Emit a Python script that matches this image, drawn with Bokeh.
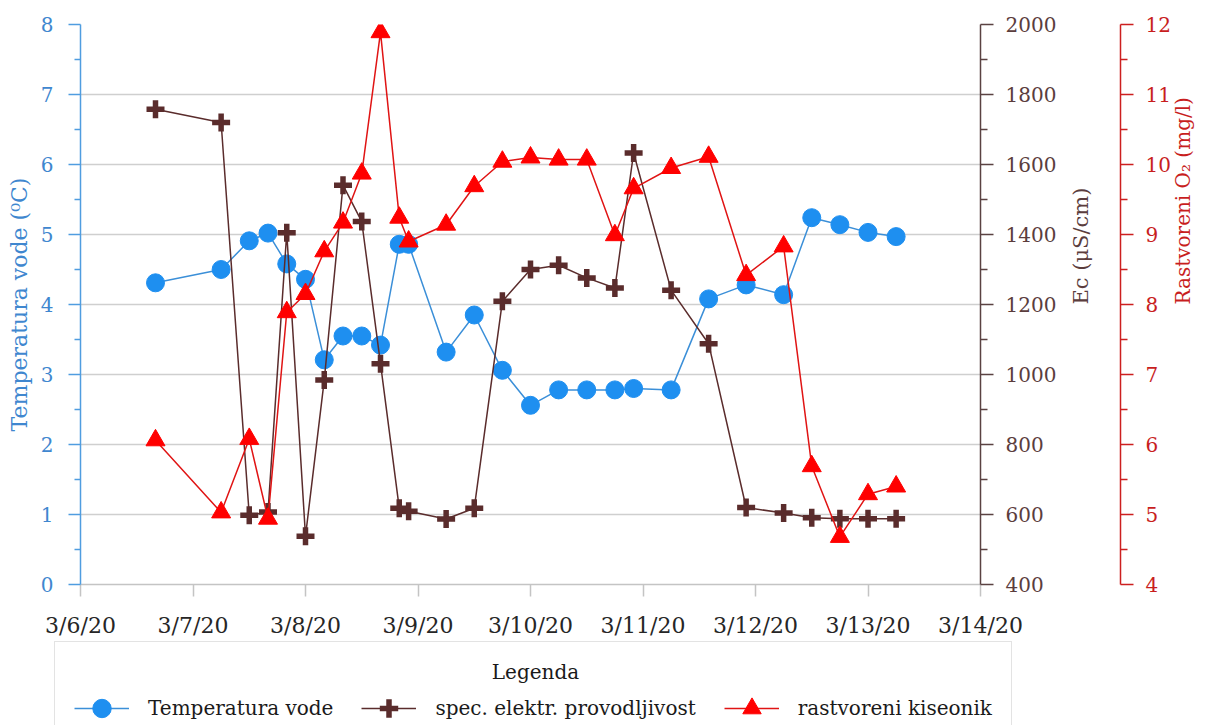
import math
import pandas as pd
from bokeh.plotting import figure
from bokeh.layouts import column
from bokeh.models import (Range1d, LinearAxis, FixedTicker, CustomJSTickFormatter,
                          Legend, LegendItem, ColumnDataSource, Label)
from bokeh.embed import file_html
from bokeh.resources import INLINE

# ---- data ----
times = ["2020-03-06 16:00", "2020-03-07 06:00", "2020-03-07 12:00", "2020-03-07 16:00",
         "2020-03-07 20:00", "2020-03-08 00:00", "2020-03-08 04:00", "2020-03-08 08:00",
         "2020-03-08 12:00", "2020-03-08 16:00", "2020-03-08 20:00", "2020-03-08 22:00",
         "2020-03-09 06:00", "2020-03-09 12:00", "2020-03-09 18:00", "2020-03-10 00:00",
         "2020-03-10 06:00", "2020-03-10 12:00", "2020-03-10 18:00", "2020-03-10 22:00",
         "2020-03-11 06:00", "2020-03-11 14:00", "2020-03-11 22:00", "2020-03-12 06:00",
         "2020-03-12 12:00", "2020-03-12 18:00", "2020-03-13 00:00", "2020-03-13 06:00"]
temperature = [4.31, 4.50, 4.91, 5.02, 4.58, 4.36, 3.21, 3.55, 3.55, 3.42, 4.86, 4.86,
               3.32, 3.85, 3.06, 2.56, 2.78, 2.78, 2.78, 2.80, 2.78, 4.08, 4.28, 4.14,
               5.24, 5.14, 5.03, 4.97]
conductivity = [1758, 1720, 598, 607, 1405, 538, 984, 1541, 1437, 1031, 618, 609,
                587, 618, 1209, 1300, 1312, 1276, 1247, 1633, 1241, 1088, 620, 604,
                591, 588, 588, 588]
oxygen = [6.06, 5.03, 6.08, 4.94, 7.89, 8.15, 8.76, 9.17, 9.87, 11.89, 9.24, 8.90,
          9.14, 9.69, 10.04, 10.10, 10.07, 10.07, 8.99, 9.66, 9.95, 10.11, 8.42, 8.83,
          5.69, 4.68, 5.29, 5.40]

x_tick_dates = ["2020-03-06", "2020-03-07", "2020-03-08", "2020-03-09", "2020-03-10",
                "2020-03-11", "2020-03-12", "2020-03-13", "2020-03-14"]
temp_ticks = [0, 1, 2, 3, 4, 5, 6, 7, 8]
temp_minor = [0.5, 1.5, 2.5, 3.5, 4.5, 5.5, 6.5, 7.5]
ec_ticks = [400, 600, 800, 1000, 1200, 1400, 1600, 1800, 2000]
ec_minor = [500, 700, 900, 1100, 1300, 1500, 1700, 1900]
o2_ticks = [4, 5, 6, 7, 8, 9, 10, 11, 12]
o2_minor = [4.5, 5.5, 6.5, 7.5, 8.5, 9.5, 10.5, 11.5]

series_labels = ["Temperatura vode", "spec. elektr. provodljivost", "rastvoreni kiseonik"]
legend_title = "Legenda"

FONT = "DejaVu Serif"
BLUE_LINE = "#3b8fd8"
BLUE_FILL = "#1e8ff0"
BLUE_AXIS = "#4f9de0"
BLUE_TEXT = "#3f87cf"
BROWN = "#5a2c2c"
BROWN_AXIS = "#5a4242"
BROWN_TEXT = "#5b3d3d"
RED_LINE = "#e01414"
RED_FILL = "#ff0000"
RED_AXIS = "#cc1f1f"
RED_TEXT = "#c81e1e"
GRAY = "#c4c4c4"

src = ColumnDataSource(dict(t=pd.to_datetime(times), temp=temperature,
                            ec=conductivity, o2=oxygen))

xt = pd.to_datetime(x_tick_dates)
x_tick_ms = [int(v.value // 10**6) for v in xt]

W = 1210
H_MAIN = 640
H_LEG = 85

p = figure(width=W, height=H_MAIN, x_axis_type="datetime", output_backend="svg",
           toolbar_location=None,
           x_range=Range1d(xt[0], xt[-1]), y_range=Range1d(0, 8),
           min_border_left=80, min_border_right=230, min_border_top=24,
           min_border_bottom=54)
p.frame_align = False
p.extra_y_ranges = {"ec": Range1d(400, 2000), "o2": Range1d(4, 12)}
p.outline_line_color = None
p.background_fill_color = "white"
p.border_fill_color = "white"

# ---- x axis ----
xax = p.xaxis[0]
xax.ticker = FixedTicker(ticks=x_tick_ms)
xax.formatter = CustomJSTickFormatter(code="""
const d = new Date(tick);
return (d.getUTCMonth() + 1) + "/" + d.getUTCDate() + "/" + String(d.getUTCFullYear()).slice(2);
""")
xax.axis_line_color = GRAY
xax.axis_line_width = 1.5
xax.major_tick_line_color = GRAY
xax.major_tick_line_width = 1.5
xax.major_tick_out = 12
xax.major_tick_in = 0
xax.minor_tick_line_color = None
xax.major_label_text_font = FONT
xax.major_label_text_font_size = "22px"
xax.major_label_text_color = "#262626"
xax.major_label_standoff = 16
p.xgrid.visible = False

# ---- left axis (temperature) ----
temp_ticker = FixedTicker(ticks=temp_ticks, minor_ticks=temp_minor)
yax = p.yaxis[0]
yax.ticker = temp_ticker
yax.axis_line_color = BLUE_AXIS
yax.axis_line_width = 1.5
yax.major_tick_line_color = BLUE_AXIS
yax.major_tick_line_width = 1.5
yax.minor_tick_line_color = BLUE_AXIS
yax.minor_tick_line_width = 1.5
yax.major_tick_out = 12
yax.major_tick_in = 0
yax.minor_tick_out = 6
yax.minor_tick_in = 0
yax.major_label_text_font = FONT
yax.major_label_text_font_size = "20px"
yax.major_label_text_color = BLUE_TEXT
yax.major_label_standoff = 15
yax.axis_label = "Temperatura vode (⁰C)"
yax.axis_label_text_font = FONT
yax.axis_label_text_font_size = "22px"
yax.axis_label_text_font_style = "normal"
yax.axis_label_text_color = BLUE_TEXT
yax.axis_label_standoff = 6
p.ygrid.ticker = temp_ticker
p.ygrid.grid_line_color = "#cfcfcf"
p.ygrid.grid_line_width = 1.5


def style_right(ax, line_color, text_color):
    ax.axis_line_color = line_color
    ax.axis_line_width = 1.5
    ax.major_tick_line_color = line_color
    ax.major_tick_line_width = 1.5
    ax.minor_tick_line_color = line_color
    ax.minor_tick_line_width = 1.5
    ax.major_tick_out = 13
    ax.major_tick_in = 0
    ax.minor_tick_out = 7
    ax.minor_tick_in = 0
    ax.major_label_text_font = FONT
    ax.major_label_text_font_size = "20px"
    ax.major_label_text_color = text_color
    ax.axis_label_text_font = FONT
    ax.axis_label_text_font_style = "normal"
    ax.axis_label_text_color = text_color
    ax.axis_label_orientation = math.pi / 2


ec_axis = LinearAxis(y_range_name="ec", ticker=FixedTicker(ticks=ec_ticks, minor_ticks=ec_minor),
                     axis_label="Ec (μS/cm)")
style_right(ec_axis, BROWN_AXIS, BROWN_TEXT)
ec_axis.major_label_standoff = 12
ec_axis.axis_label_text_font_size = "21px"
ec_axis.axis_label_standoff = 22

# blank gap between the two right-hand axes (white on white)
spacer = LinearAxis(y_range_name="ec", ticker=FixedTicker(ticks=[1200]),
                    formatter=CustomJSTickFormatter(code="return ''"))
spacer.axis_line_color = "white"
spacer.axis_line_width = 1
spacer.major_tick_line_color = "white"
spacer.minor_tick_line_color = None
spacer.major_tick_out = 12
spacer.major_tick_in = 0
spacer.minor_tick_out = 0
spacer.major_label_standoff = 0
spacer.major_label_text_font_size = "1px"

o2_axis = LinearAxis(y_range_name="o2", ticker=FixedTicker(ticks=o2_ticks, minor_ticks=o2_minor),
                     axis_label="Rastvoreni O₂ (mg/l)")
style_right(o2_axis, RED_AXIS, RED_TEXT)
o2_axis.major_label_standoff = 12
o2_axis.axis_label_text_font_size = "20px"
o2_axis.axis_label_standoff = 9

p.add_layout(ec_axis, "right")
p.add_layout(spacer, "right")
p.add_layout(o2_axis, "right")


def draw_series(fig):
    r1l = fig.line("t", "temp", source=src, line_color=BLUE_LINE, line_width=1.5)
    r1m = fig.scatter("t", "temp", source=src, marker="circle", size=18,
                      fill_color=BLUE_FILL, line_color=BLUE_FILL)
    r2l = fig.line("t", "ec", source=src, y_range_name="ec", line_color=BROWN, line_width=1.5)
    r2m = fig.scatter("t", "ec", source=src, y_range_name="ec", marker="cross", size=18,
                      line_color=BROWN, line_width=5.5)
    r3l = fig.line("t", "o2", source=src, y_range_name="o2", line_color=RED_LINE, line_width=1.5)
    r3m = fig.scatter("t", "o2", source=src, y_range_name="o2", marker="triangle", size=19,
                      fill_color=RED_FILL, line_color=RED_FILL)
    return [(r1l, r1m), (r2l, r2m), (r3l, r3m)]


draw_series(p)

# ---- legend strip (separate figure so the box can run off the bottom edge) ----
q = figure(width=W, height=H_LEG, output_backend="svg", toolbar_location=None,
           x_range=p.x_range, y_range=Range1d(-20, -19),
           x_axis_location=None, y_axis_location=None,
           min_border_left=0, min_border_right=W - 1066,
           min_border_top=0, min_border_bottom=0)
q.frame_align = False
q.extra_y_ranges = {"ec": Range1d(-20, -19), "o2": Range1d(-20, -19)}
q.outline_line_color = None
q.grid.visible = False
q.background_fill_color = "white"
q.border_fill_color = "white"

pairs = draw_series(q)  # out of view; only used for legend glyphs

legend = Legend(items=[LegendItem(label=lab, renderers=list(rs))
                       for lab, rs in zip(series_labels, pairs)],
                orientation="horizontal", location="top_center",
                title=" ", title_text_font=FONT, title_text_font_size="20px",
                title_standoff=0,
                label_text_font=FONT, label_text_font_size="20px", label_text_color="#1a1a1a",
                glyph_width=55, glyph_height=46, label_standoff=19, spacing=28,
                padding=19, margin=1,
                border_line_color="#c8c8c8", border_line_width=1.5,
                background_fill_color="white", background_fill_alpha=0.0)
q.add_layout(legend, "center")
q.add_layout(Label(x=535, y=H_LEG - 31, x_units="screen", y_units="screen",
                   text=legend_title, text_font=FONT, text_font_size="20px",
                   text_color="#1a1a1a", text_align="center", text_baseline="middle"))

layout = column(p, q, spacing=0)
open("out.html", "w").write(file_html(layout, INLINE))
